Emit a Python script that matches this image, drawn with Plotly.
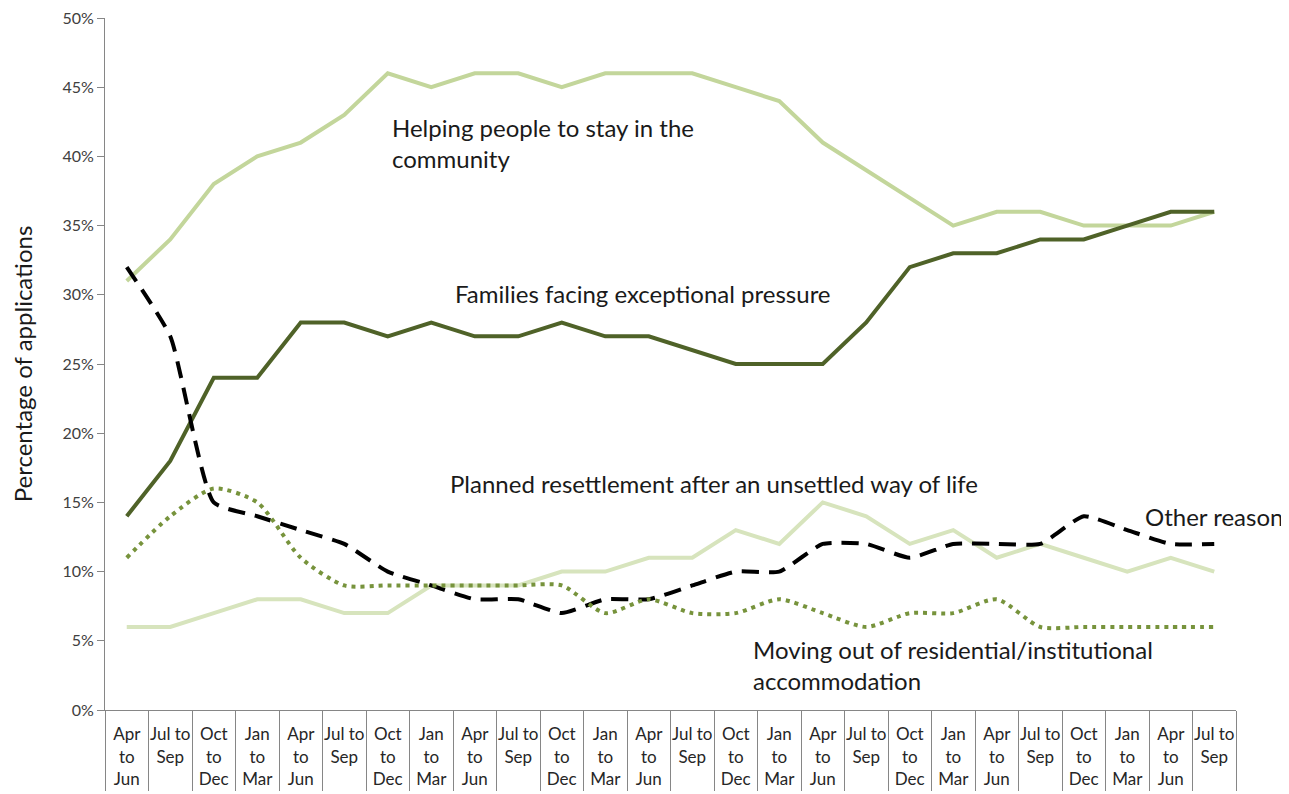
import plotly.graph_objects as go

# quarters on the x axis
periods = [
    "Apr<br>to<br>Jun", "Jul to<br>Sep", "Oct<br>to<br>Dec", "Jan<br>to<br>Mar",
    "Apr<br>to<br>Jun", "Jul to<br>Sep", "Oct<br>to<br>Dec", "Jan<br>to<br>Mar",
    "Apr<br>to<br>Jun", "Jul to<br>Sep", "Oct<br>to<br>Dec", "Jan<br>to<br>Mar",
    "Apr<br>to<br>Jun", "Jul to<br>Sep", "Oct<br>to<br>Dec", "Jan<br>to<br>Mar",
    "Apr<br>to<br>Jun", "Jul to<br>Sep", "Oct<br>to<br>Dec", "Jan<br>to<br>Mar",
    "Apr<br>to<br>Jun", "Jul to<br>Sep", "Oct<br>to<br>Dec", "Jan<br>to<br>Mar",
    "Apr<br>to<br>Jun", "Jul to<br>Sep",
]
# categories repeat, so index them and show the labels as tick text
x_idx = list(range(len(periods)))

helping = [31, 34, 38, 40, 41, 43, 46, 45, 46, 46, 45, 46, 46, 46, 45, 44,
           41, 39, 37, 35, 36, 36, 35, 35, 35, 36]
families = [14, 18, 24, 24, 28, 28, 27, 28, 27, 27, 28, 27, 27, 26, 25, 25,
            25, 28, 32, 33, 33, 34, 34, 35, 36, 36]
planned = [6, 6, 7, 8, 8, 7, 7, 9, 9, 9, 10, 10, 11, 11, 13, 12,
           15, 14, 12, 13, 11, 12, 11, 10, 11, 10]
other = [32, 27, 15, 14, 13, 12, 10, 9, 8, 8, 7, 8, 8, 9, 10, 10,
         12, 12, 11, 12, 12, 12, 14, 13, 12, 12]
moving = [11, 14, 16, 15, 11, 9, 9, 9, 9, 9, 9, 7, 8, 7, 7, 8,
          7, 6, 7, 7, 8, 6, 6, 6, 6, 6]

FONT = "Lato"
AXIS_GREY = "#868686"

fig = go.Figure()

fig.add_trace(go.Scatter(x=x_idx, y=helping, mode="lines",
                         line=dict(color="#c3d69b", width=4)))
fig.add_trace(go.Scatter(x=x_idx, y=families, mode="lines",
                         line=dict(color="#4f6228", width=4)))
fig.add_trace(go.Scatter(x=x_idx, y=planned, mode="lines",
                         line=dict(color="#d7e4bd", width=4)))
fig.add_trace(go.Scatter(x=x_idx, y=other, mode="lines",
                         line=dict(color="#000000", width=4, dash="17px,10px",
                                   shape="spline", smoothing=0.5)))
fig.add_trace(go.Scatter(x=x_idx, y=moving, mode="lines",
                         line=dict(color="#77933c", width=4, dash="4px,5px",
                                   shape="spline", smoothing=0.7)))
# invisible trace carrying the label axis
fig.add_trace(go.Scatter(x=x_idx, y=helping, mode="none", xaxis="x2",
                         hoverinfo="skip"))

labels = [
    (6.06, 41.0, "Helping people to stay in the<br>community"),
    (7.51, 30.1, "Families facing exceptional pressure"),
    (7.39, 16.4, "Planned resettlement after an unsettled way of life"),
    (23.37, 13.95, "Other reason"),
    (14.34, 3.25, "Moving out of residential/institutional<br>accommodation"),
]
for lx, ly, txt in labels:
    fig.add_annotation(x=lx, y=ly, xref="x", yref="y", text=txt,
                       showarrow=False, xanchor="left", yanchor="middle",
                       align="left", font=dict(family=FONT, size=24, color="#1a1a1a"))

# page has an 8px body margin, so the figure is sized to fit inside it
fig.update_layout(
    width=1281, height=786,
    margin=dict(l=97, r=53, t=10, b=84, autoexpand=False),
    plot_bgcolor="white", paper_bgcolor="white",
    showlegend=False,
    font=dict(family=FONT),
    xaxis=dict(
        range=[-0.5, len(periods) - 0.5],
        tickmode="array", tickvals=[i - 0.5 for i in x_idx] + [len(periods) - 0.5],
        showticklabels=False, automargin=False,
        ticks="outside", ticklen=80, tickcolor=AXIS_GREY, tickwidth=1,
        showline=True, linecolor=AXIS_GREY, linewidth=1,
        showgrid=False, zeroline=False,
    ),
    xaxis2=dict(
        overlaying="x", side="bottom", anchor="y",
        range=[-0.5, len(periods) - 0.5], automargin=False,
        tickmode="array", tickvals=x_idx, ticktext=periods,
        ticks="outside", ticklen=9, tickcolor="rgba(0,0,0,0)",
        tickfont=dict(family=FONT, size=17, color="#262626"),
        ticklabeloverflow="allow",
        showgrid=False, zeroline=False, showline=False,
    ),
    yaxis=dict(
        range=[0, 50], dtick=5, ticksuffix="%", automargin=False,
        ticks="outside", ticklen=7, tickcolor=AXIS_GREY,
        showline=True, linecolor=AXIS_GREY, linewidth=1,
        showgrid=False, zeroline=False, ticklabeloverflow="allow",
        tickfont=dict(family=FONT, size=16, color="#404040"),
        title=dict(text="Percentage of applications",
                   font=dict(family=FONT, size=24, color="#1a1a1a"), standoff=30),
    ),
)

fig.write_html("out.html")
